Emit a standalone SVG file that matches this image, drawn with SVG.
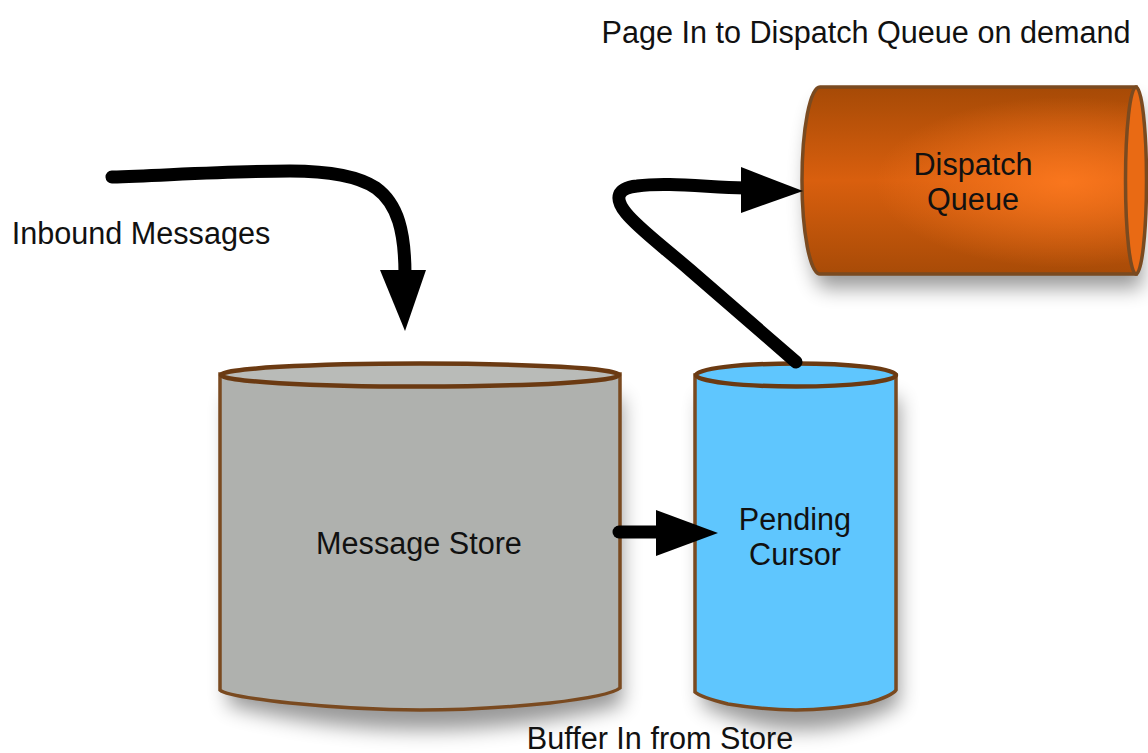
<svg xmlns="http://www.w3.org/2000/svg" width="1148" height="753" viewBox="0 0 1148 753">
<style>
text{font-family:"Liberation Sans",Arial,sans-serif;font-size:30.6px;fill:#111;text-anchor:middle}
.body{stroke:#7a4a20;stroke-width:3.5}
.rim{stroke:#6b3a12;stroke-width:4.5}
.conn{fill:none;stroke:#000;stroke-width:13;stroke-linecap:round}
.head{fill:#000}
</style>
<defs>
<filter id="sh" x="-20%" y="-20%" width="140%" height="145%"><feGaussianBlur stdDeviation="10"/></filter>
<linearGradient id="vg" x1="0" y1="0" x2="0" y2="1">
<stop offset="0" stop-color="#a64a06"/><stop offset=".5" stop-color="#d95f0e"/><stop offset="1" stop-color="#a84b07"/>
</linearGradient>
<radialGradient id="hl" gradientUnits="userSpaceOnUse" cx="1065" cy="183" r="190" gradientTransform="translate(0 100) scale(1 .45)">
<stop offset="0" stop-color="#ff7a20" stop-opacity=".85"/><stop offset="1" stop-color="#ff7a20" stop-opacity="0"/>
</radialGradient>
</defs>
<rect width="1148" height="753" fill="#fff"/>
<g id="store">
<path d="M224 388V695Q320 720 420 720Q520 720 618 695V388Z" fill="#000" opacity=".4" filter="url(#sh)" transform="translate(4 10)"/>
<path class="body" d="M220 374V690Q226 696 290 703Q360 710 420 710Q480 710 550 703Q610 696 620 688V374Z" fill="#afb1ae"/>
<ellipse class="rim" cx="420" cy="375" rx="199" ry="11.500" fill="#b9bbb8"/>
<text x="419" y="554">Message Store</text>
</g>
<g id="cursor">
<path d="M698 388V695Q750 720 796 720Q845 720 895 695V388Z" fill="#000" opacity=".4" filter="url(#sh)" transform="translate(4 10)"/>
<path class="body" d="M695 375V692Q700 697 728 704Q765 710 796 710Q830 710 868 703Q892 696 896 690V375Z" fill="#5fc6fe"/>
<ellipse class="rim" cx="796" cy="375" rx="100" ry="11.500" fill="#5fc6fe"/>
<text x="795" y="530">Pending</text>
<text x="795" y="565">Cursor</text>
</g>
<g id="queue">
<path d="M820 95H1140V280H820A18 94 0 0 1 820 95Z" fill="#000" opacity=".4" filter="url(#sh)" transform="translate(2 8)"/>
<path class="body" d="M820 87H1136V274H820A18 93.500 0 0 1 820 87Z" fill="url(#vg)"/>
<path d="M820 87H1136V274H820A18 93.500 0 0 1 820 87Z" fill="url(#hl)"/>
<ellipse class="body" cx="1136" cy="180.500" rx="10.500" ry="93.500" fill="#e96a14"/>
<text x="973" y="175">Dispatch</text>
<text x="973" y="210">Queue</text>
</g>
<g id="connectors">
<path class="conn" d="M112 177C170 175 235 171 290 171C330 171 358 176 376 188C398 204 405 232 405 275"/>
<polygon class="head" points="380,270 426,270 405,331"/>
<path class="conn" d="M796 362L690 270C660 244 638 228 626 213C614 198 617 188 637 186C667 182 705 187 745 188"/>
<polygon class="head" points="741,167 803,191 741,213"/>
<path class="conn" d="M619 532L660 532"/>
<polygon class="head" points="656,510 718,533 656,556"/>
</g>
<text x="866" y="43" id="t-page">Page In to Dispatch Queue on demand</text>
<text x="141" y="244" id="t-inbound">Inbound Messages</text>
<text x="660" y="749" id="t-buffer">Buffer In from Store</text>
</svg>
